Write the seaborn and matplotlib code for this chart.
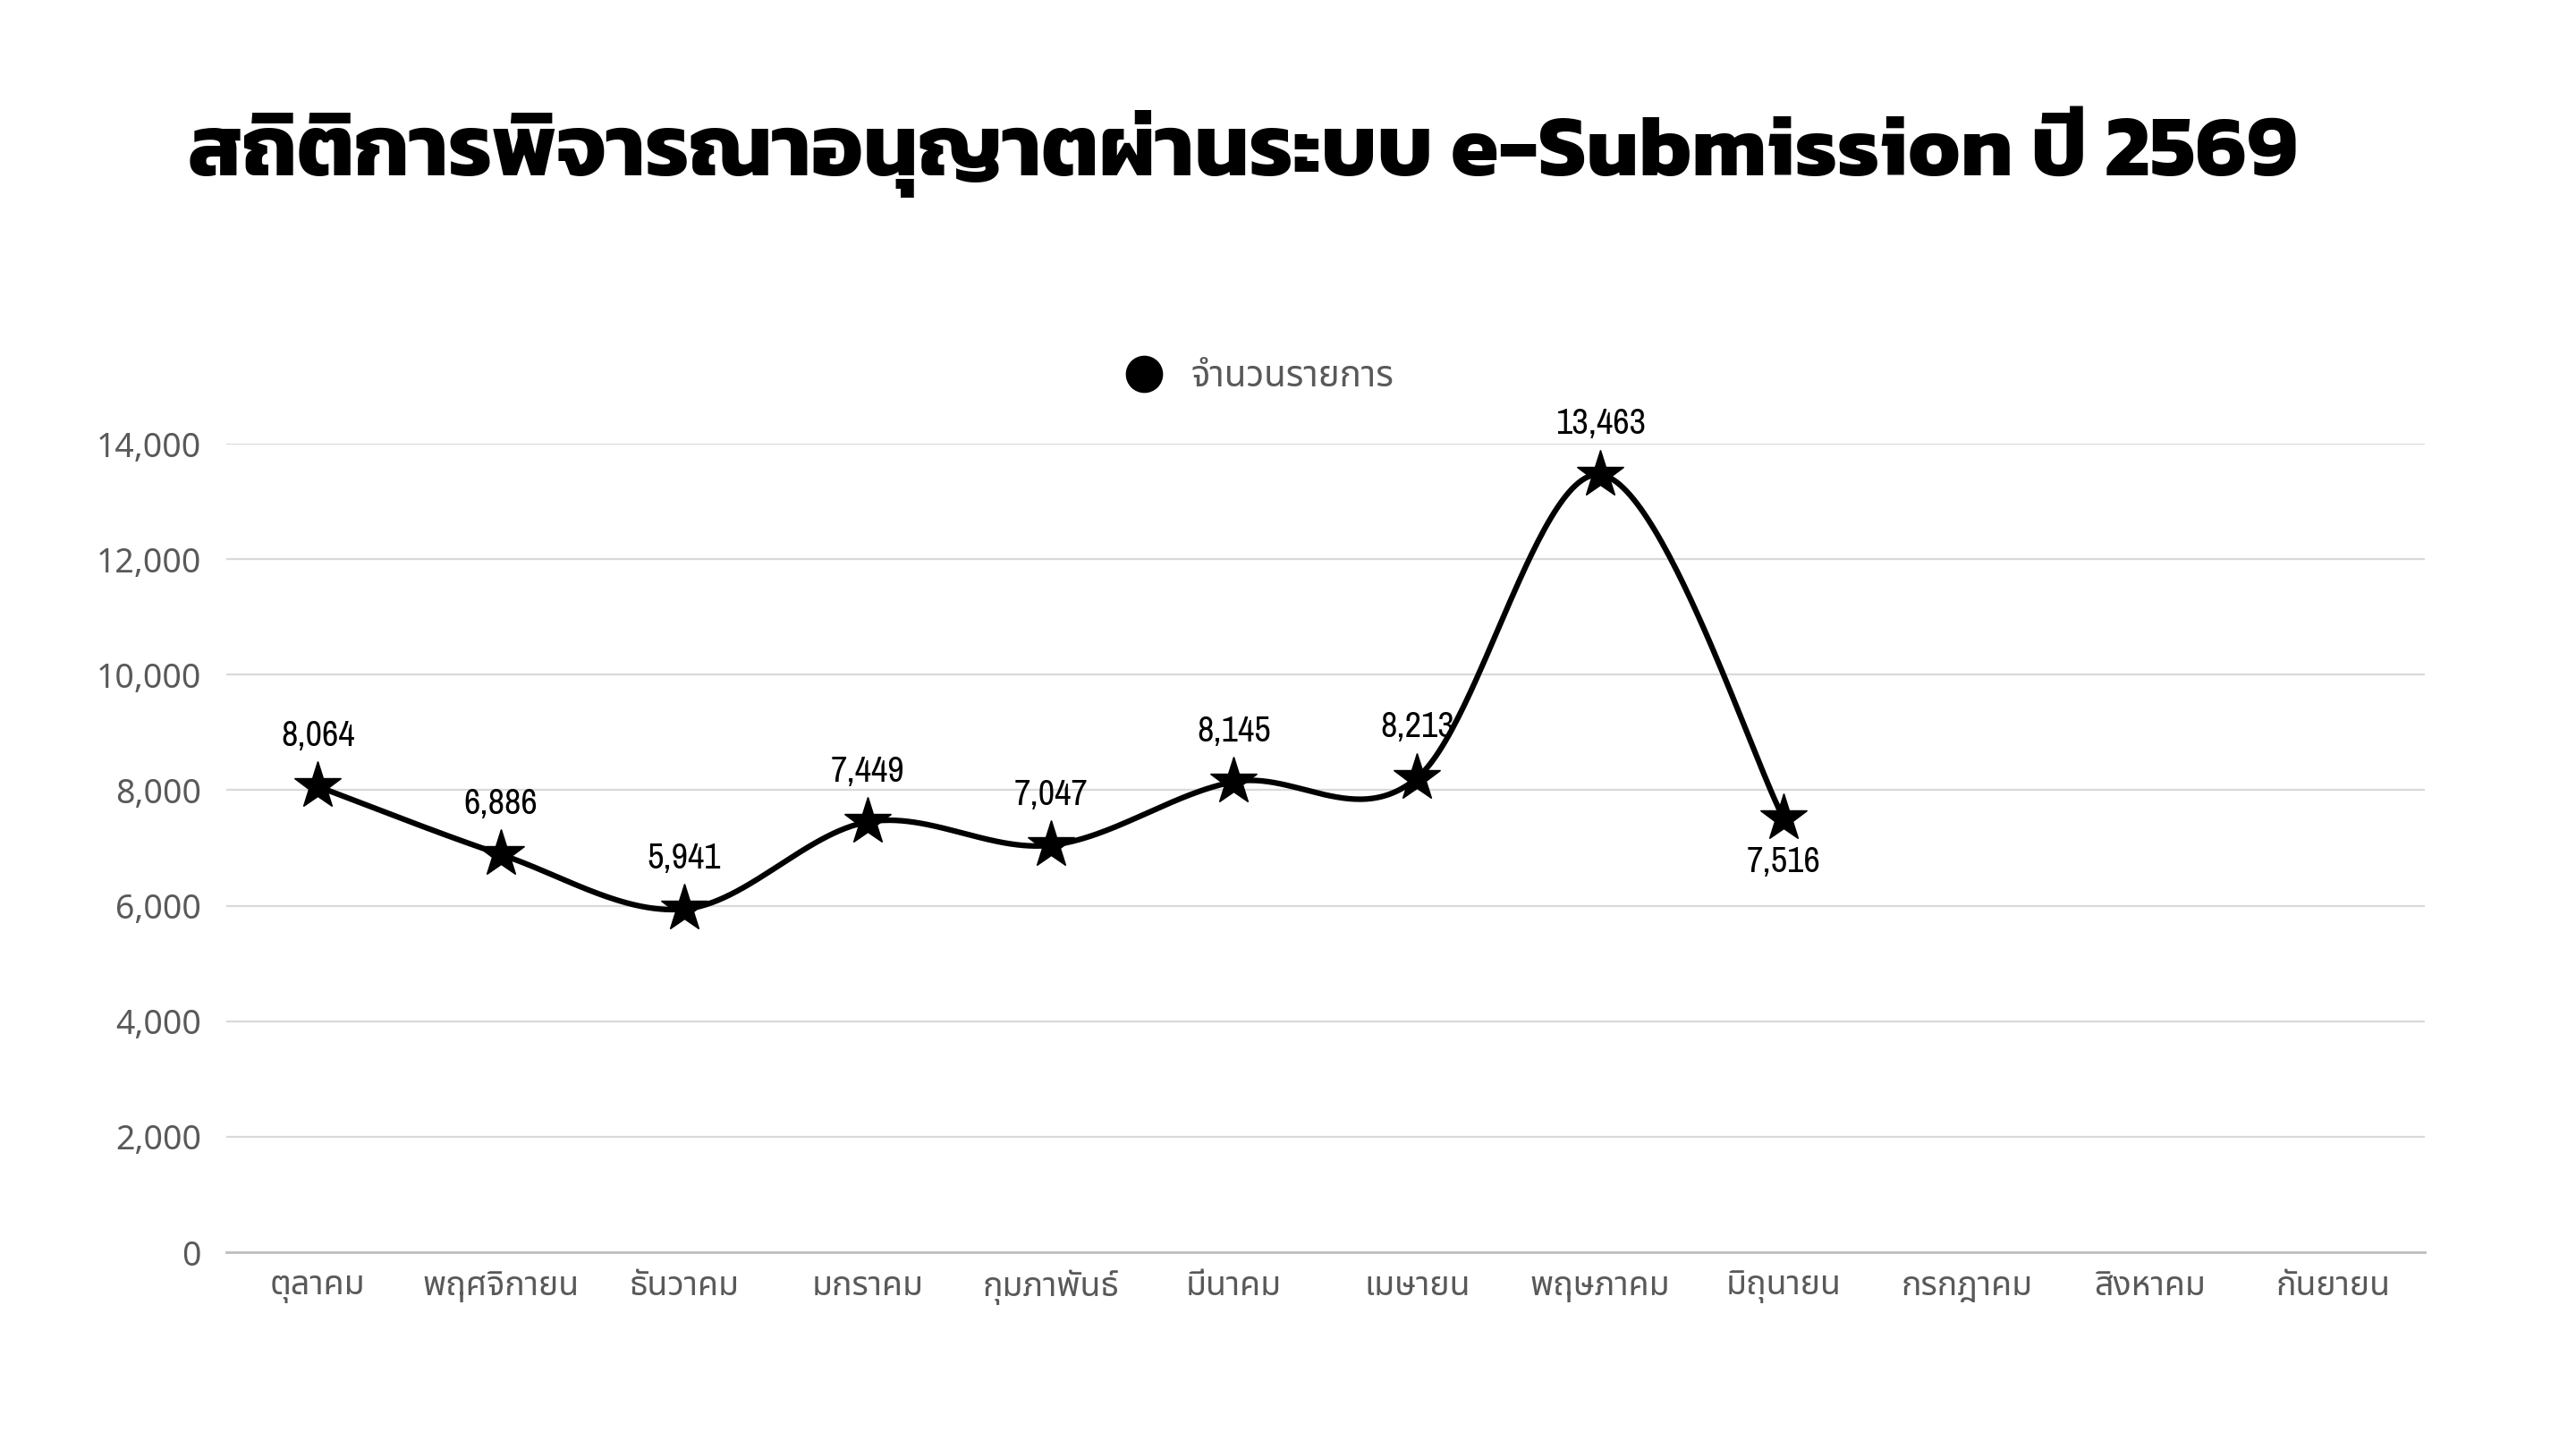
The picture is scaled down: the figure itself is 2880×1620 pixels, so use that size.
import matplotlib
matplotlib.use("Agg")
import matplotlib.pyplot as plt
from matplotlib.lines import Line2D
import numpy as np
import pandas as pd
import seaborn as sns

months = ["ตุลาคม", "พฤศจิกายน", "ธันวาคม", "มกราคม", "กุมภาพันธ์", "มีนาคม",
          "เมษายน", "พฤษภาคม", "มิถุนายน", "กรกฎาคม", "สิงหาคม", "กันยายน"]
values = [8064, 6886, 5941, 7449, 7047, 8145, 8213, 13463, 7516]
series_name = "จำนวนรายการ"
title = "สถิติการพิจารณาอนุญาตผ่านระบบ e-Submission ปี 2569"
yticks = [0, 2000, 4000, 6000, 8000, 10000, 12000, 14000]

sns.set_theme(style="white")
plt.rcParams['font.family'] = ['Noto Sans Thai', 'DejaVu Sans']
label_family = ['Archivo Narrow', 'PT Sans Narrow', 'Roboto Condensed', 'DejaVu Sans']

fig = plt.figure(figsize=(28.8, 16.2), dpi=100)
ax = fig.add_axes([0.0878, 0.1358, 0.8535, 0.5580])

x = np.arange(len(values), dtype=float)
y = np.array(values, dtype=float)

# smooth curve (Excel-like bezier smoothing) through the data points
pts = np.column_stack([x, y])
curve = []
for i in range(len(pts) - 1):
    p0 = pts[i - 1] if i > 0 else pts[i]
    p1 = pts[i]
    p2 = pts[i + 1]
    p3 = pts[i + 2] if i + 2 < len(pts) else pts[i + 1]
    c1 = p1 + (p2 - p0) / 6.0
    c2 = p2 - (p3 - p1) / 6.0
    t = np.linspace(0, 1, 60)[:, None]
    seg = ((1 - t) ** 3) * p1 + 3 * ((1 - t) ** 2) * t * c1 + 3 * (1 - t) * t ** 2 * c2 + t ** 3 * p2
    curve.append(seg if i == 0 else seg[1:])
curve = np.vstack(curve)
df_curve = pd.DataFrame({"x": curve[:, 0], "y": curve[:, 1]})
df_pts = pd.DataFrame({"x": x, "y": y})

sns.lineplot(data=df_curve, x="x", y="y", ax=ax, color="black", linewidth=4.5,
             sort=False, estimator=None, zorder=3)
ax.plot(df_pts["x"], df_pts["y"], linestyle="none", marker="*", markersize=40,
        color="black", zorder=4)

for xi, yi in zip(x, y):
    off = -35 if xi == len(values) - 1 else 41
    ax.annotate(f"{int(yi):,}", (xi, yi), xytext=(0, off), textcoords="offset points",
                ha="center", va="center", fontsize=29, color="black",
                family=label_family)

ax.set_xlim(-0.5, len(months) - 0.5)
ax.set_ylim(0, 14000)
ax.set_xticks(range(len(months)))
ax.set_xticklabels(months, fontsize=27, color="#595959")
ax.set_yticks(yticks)
ax.set_yticklabels([f"{v:,}" for v in yticks], fontsize=27, color="#595959")
ax.tick_params(axis="both", length=0)
ax.tick_params(axis="y", pad=20)
ax.tick_params(axis="x", pad=14)
ax.set_xlabel("")
ax.set_ylabel("")
ax.grid(axis="y", color="#d9d9d9", linewidth=1.6)
ax.set_axisbelow(True)
for s in ["left", "right", "top"]:
    ax.spines[s].set_visible(False)
ax.spines["bottom"].set_color("#bfbfbf")
ax.spines["bottom"].set_linewidth(2)

handle = Line2D([], [], linestyle="none", marker="o", markersize=29, color="black")
leg = ax.legend([handle], [series_name], loc="center", bbox_to_anchor=(0.466, 1.082),
                frameon=False, fontsize=29, handletextpad=0.3, borderpad=0)
for t in leg.get_texts():
    t.set_color("#595959")

fig.text(0.073, 0.895, title, fontsize=70, fontweight="bold", color="black",
         family=['Kanit', 'DejaVu Sans'], va="center", ha="left")

fig.savefig("out.png", dpi=100, facecolor="white")
